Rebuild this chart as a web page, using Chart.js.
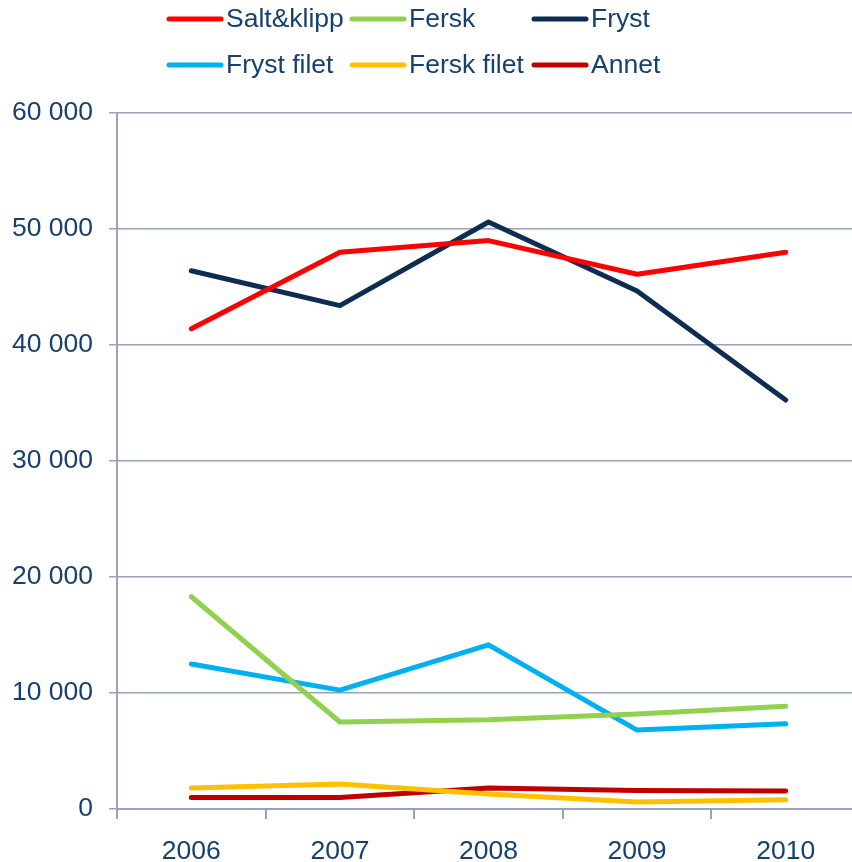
<!DOCTYPE html>
<html>
<head>
<meta charset="utf-8">
<script src="https://cdn.jsdelivr.net/npm/chart.js@4/dist/chart.umd.min.js"></script>
<style>
  html, body { margin: 0; padding: 0; background: #fff; overflow: hidden; }
  #wrap { width: 852px; height: 862px; overflow: hidden; }
</style>
</head>
<body>
<div id="wrap"><canvas id="myChart" width="862" height="862"></canvas></div>
<script>
const years = ['2006', '2007', '2008', '2009', '2010'];
const seriesNames = ['Salt&klipp', 'Fersk', 'Fryst', 'Fryst filet', 'Fersk filet', 'Annet'];
const saltKlipp = [41400, 48000, 49000, 46100, 48000];
const fersk = [18300, 7500, 7700, 8200, 8850];
const fryst = [46400, 43400, 50600, 44650, 35250];
const frystFilet = [12500, 10250, 14150, 6800, 7350];
const ferskFilet = [1800, 2150, 1300, 600, 800];
const annet = [1000, 1000, 1800, 1600, 1550];
const colors = ['#FF0000', '#92D050', '#0F2D52', '#00B0F0', '#FFC000', '#C00000'];

const textColor = '#17406E';
const axisColor = '#98A2B8';
const font = { family: '"Liberation Sans", Arial, sans-serif', size: 26.5 };

const allValues = [saltKlipp, fersk, fryst, frystFilet, ferskFilet, annet];

// legend i to rader med tre kolonner, som i originalen
const gridLegend = {
    id: 'gridLegend',
    afterDraw(chart) {
        const c = chart.ctx;
        const colX = [167, 350, 532];
        const rowY = [19, 65];
        c.save();
        c.font = font.size + 'px ' + font.family;
        c.textBaseline = 'middle';
        c.lineCap = 'round';
        chart.data.datasets.forEach((ds, i) => {
            const x = colX[i % 3];
            const y = rowY[Math.floor(i / 3)];
            c.strokeStyle = ds.borderColor;
            c.lineWidth = 5;
            c.beginPath();
            c.moveTo(x + 2, y);
            c.lineTo(x + 54, y);
            c.stroke();
            c.fillStyle = textColor;
            c.fillText(ds.label, x + 59, y + 1);
        });
        c.restore();
    }
};

const ctx = document.getElementById('myChart');
new Chart(ctx, {
    type: 'line',
    data: {
        labels: years,
        datasets: seriesNames.map((name, i) => ({
            label: name,
            data: allValues[i],
            borderColor: colors[i],
            backgroundColor: colors[i],
            borderWidth: 5,
            borderCapStyle: 'round',
            borderJoinStyle: 'round',
            pointRadius: 0,
            tension: 0,
            fill: false
        }))
    },
    options: {
        responsive: false,
        animation: false,
        layout: { padding: { top: 113, right: 2, left: 0, bottom: 0 } },
        plugins: {
            legend: { display: false },
            tooltip: { enabled: false }
        },
        scales: {
            x: {
                offset: true,
                afterFit(scale) { scale.height = 53; },
                grid: {
                    offset: true,
                    drawOnChartArea: false,
                    drawTicks: true,
                    tickLength: 10,
                    color: axisColor,
                    lineWidth: 2
                },
                border: { color: axisColor, width: 2 },
                ticks: { color: textColor, font: font, padding: 17, maxRotation: 0 }
            },
            y: {
                min: 0,
                max: 60000,
                afterFit(scale) { scale.width = 117; },
                ticks: {
                    stepSize: 10000,
                    color: textColor,
                    font: font,
                    padding: 16,
                    callback: v => v.toLocaleString('en-US').replace(/,/g, ' ')
                },
                grid: { color: axisColor, lineWidth: 1.5, tickLength: 8 },
                border: { color: axisColor, width: 2 }
            }
        }
    },
    plugins: [gridLegend]
});
</script>
</body>
</html>
